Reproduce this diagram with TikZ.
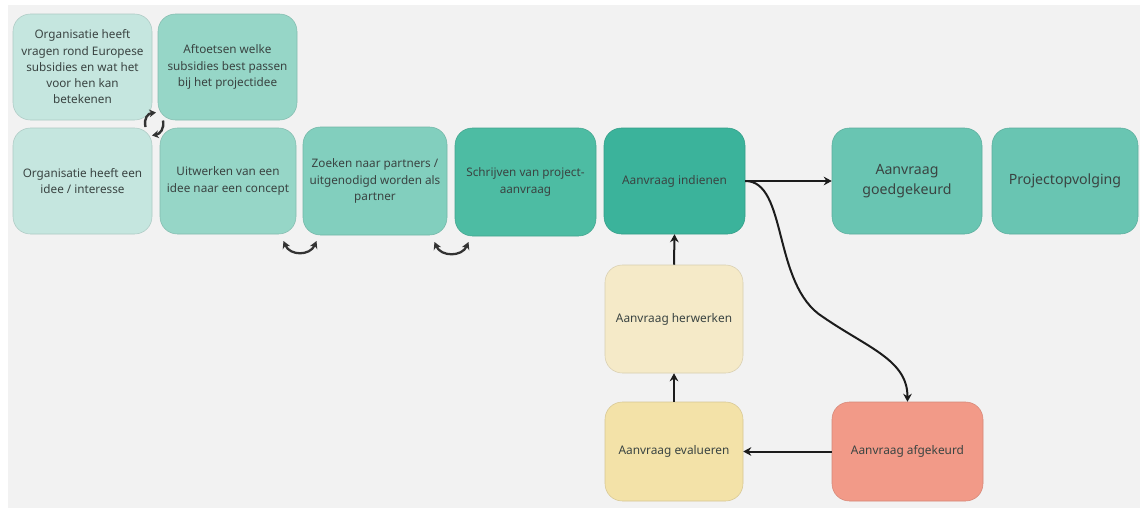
\documentclass[tikz,border=0pt]{standalone}
\usepackage{fontspec}
\setmainfont{Noto Sans}
\usetikzlibrary{arrows.meta,calc}
\definecolor{bgc}{HTML}{F2F2F2}
\definecolor{cA}{HTML}{C5E6DF}
\definecolor{cB}{HTML}{96D6C7}
\definecolor{cC}{HTML}{82CFBE}
\definecolor{cD}{HTML}{4DBCA3}
\definecolor{cE}{HTML}{3BB39B}
\definecolor{cF}{HTML}{69C5B2}
\definecolor{cG}{HTML}{F5EAC8}
\definecolor{cH}{HTML}{F3E2A8}
\definecolor{cI}{HTML}{F29A88}
\definecolor{txt}{HTML}{3A4442}
\definecolor{arr}{HTML}{1C1C1C}
\tikzset{
  box/.style={rounded corners=13pt, fill=#1, draw=#1!88!black, line width=0.4pt,
    align=center, text=txt, font=\fontsize{8.8}{12.2}\selectfont, inner sep=2pt},
  bigtxt/.style={font=\fontsize{10.6}{15}\selectfont},
  smalltxt/.style={font=\fontsize{8.9}{12}\selectfont},
  conn/.style={draw=arr, line width=1.5pt, -{Stealth[length=6pt,width=6.5pt]}},
  swap/.style={draw=arr!90!white, line width=1.7pt, {Stealth[length=5.5pt,width=6pt]}-{Stealth[length=5.5pt,width=6pt]}},
  cyc/.style={draw=arr!90!white, line width=1.8pt, -{Stealth[length=5pt,width=5.8pt]}}
}
\newcommand{\bx}[7]{% name, color, cx, cy, w, h, text
  \node[box=#2, minimum width=#5*0.75pt, minimum height=#6*0.75pt] (#1) at (#3,#4) {#7};}
\begin{document}
\begin{tikzpicture}[x=0.75pt,y=-0.75pt]
\useasboundingbox (0,0) rectangle (1140,508);
\fill[white] (0,0) rectangle (1140,508);
\fill[bgc] (8,5) rectangle (1140,508);

\bx{n1}{cA}{82.5}{67}{139}{106}{Organisatie heeft\\vragen rond Europese\\subsidies en wat het\\voor hen kan\\betekenen}
\bx{n2}{cB}{227.5}{67}{139}{106}{Aftoetsen welke\\subsidies best passen\\bij het projectidee}
\bx{n3}{cA}{82.5}{181}{139}{106}{Organisatie heeft een\\idee / interesse}
\bx{n4}{cB}{228}{181}{136}{106}{Uitwerken van een\\idee naar een concept}
\bx{n5}{cC}{375}{181}{144}{108}{Zoeken naar partners /\\uitgenodigd worden als\\partner}
\bx{n6}{cD}{525.5}{182}{141}{108}{Schrijven van project-\\aanvraag}
\node[box=cE, smalltxt, minimum width=141*0.75pt, minimum height=106*0.75pt] (n7) at (674.5,181) {Aanvraag indienen};
\node[box=cF, bigtxt, minimum width=150*0.75pt, minimum height=106*0.75pt] (n8) at (907,181) {Aanvraag\\goedgekeurd};
\node[box=cF, bigtxt, minimum width=146*0.75pt, minimum height=106*0.75pt] (n9) at (1065,181) {Projectopvolging};
\node[box=cG, smalltxt, minimum width=138*0.75pt, minimum height=108*0.75pt] (n10) at (674,319) {Aanvraag herwerken};
\node[box=cH, smalltxt, minimum width=138*0.75pt, minimum height=99*0.75pt] (n11) at (674,451.5) {Aanvraag evalueren};
\node[box=cI, smalltxt, minimum width=151*0.75pt, minimum height=99*0.75pt] (n12) at (907.5,451.5) {Aanvraag afgekeurd};

% connectors
\draw[conn] (n7.east) -- (n8.west);
\coordinate (mid) at (823,317);
\draw[conn] (n7.east) .. controls (788,181) and (772,285) .. (mid)
  .. controls (868,348) and (907.5,360) .. (n12.north);
\draw[conn] (n12.west) -- (n11.east);
\draw[conn] (n11.north) -- (n10.south);
\draw[conn] (n10.north) -- (n7.south);

% cycle arrows between the first four boxes
\draw[cyc] (145.5,127) .. controls (143.5,118) and (148,113.5) .. (156,112.5);
\draw[cyc] (163,120.5) .. controls (164.5,129) and (160,134) .. (152,135.5);

% swap arrows
\draw[swap] (283.5,241) .. controls (290,256) and (310,256) .. (316.5,241);
\draw[swap] (434.5,242) .. controls (441,257) and (462,257) .. (468.5,242);
\end{tikzpicture}
\end{document}
